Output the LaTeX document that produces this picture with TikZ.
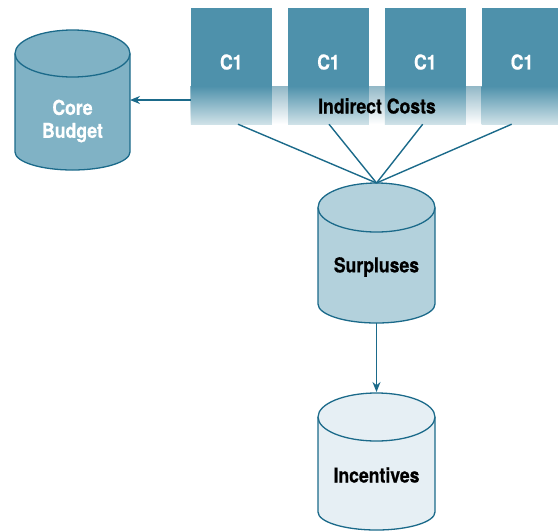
\documentclass[tikz,border=0pt]{standalone}
\usepackage{fontspec}
\setmainfont{TeX Gyre Heros}[FakeStretch=0.86, BoldFeatures={FakeBold=0.6}]
\usetikzlibrary{arrows.meta,calc}
\definecolor{boxc}{HTML}{4E91AB}
\definecolor{edgec}{HTML}{1B6A8A}
\definecolor{cbfill}{HTML}{80B2C5}
\definecolor{spfill}{HTML}{B3D1DC}
\definecolor{infill}{HTML}{E6EFF4}
\definecolor{bandtop}{HTML}{92B8C7}
\definecolor{boxlow}{HTML}{D0E2E8}
\begin{document}
\begin{tikzpicture}[x=1pt,y=-1pt,
  lbl/.style={font=\bfseries\fontsize{20.5}{23}\selectfont, align=center, inner sep=0pt},
  boxnode/.style={minimum width=80.5pt, minimum height=116pt, inner sep=0pt, draw=none},
  conn/.style={draw=edgec, line width=1.4pt},
  arr/.style={conn, -{Stealth[length=10pt,width=8pt]}},
  cylline/.style={draw=edgec, line width=1.3pt}]
\useasboundingbox (0,0) rectangle (558,531);

% band behind boxes
\shade[top color=bandtop, bottom color=white] (190,86) rectangle (558,124);

% boxes
\foreach \n/\cx in {b1/231.3, b2/328.5, b3/425.3, b4/522}{
  \node[boxnode] (\n) at (\cx,66) {};
  \fill[boxc] (\n.north west) rectangle ($(\n.east)+(0,20)$);
  \shade[top color=boxc, bottom color=boxlow] ($(\n.west)+(0,20)$) rectangle (\n.south east);
}
\foreach \n in {b1,b2,b3,b4}{
  \node[lbl, text=white] (t\n) at ($(\n.center)+(0,-4)$) {C1};
}
\node[lbl, text=black] (ind) at (377,106) {Indirect Costs};

% Core Budget cylinder
\filldraw[cylline, fill=cbfill] (15,53.5) -- (15,152) arc[start angle=180, end angle=360, x radius=57.5pt, y radius=18pt] -- (130,53.5);
\filldraw[cylline, fill=cbfill] (72.5,53.5) ellipse[x radius=57.5pt, y radius=23.5pt];
\coordinate (cbright) at (130,100);
\node[lbl, text=white] (core) at (72.5,121) {Core\\Budget};

% Surpluses cylinder
\filldraw[cylline, fill=spfill] (318,207.5) -- (318,304) arc[start angle=180, end angle=360, x radius=58.5pt, y radius=19pt] -- (435,207.5);
\filldraw[cylline, fill=spfill] (376.5,207.5) ellipse[x radius=58.5pt, y radius=24.5pt];
\coordinate (sptop) at (376.5,183);
\coordinate (spbot) at (376.5,323);
\node[lbl, text=black] (surp) at (376.5,267) {Surpluses};

% Incentives cylinder
\filldraw[cylline, fill=infill] (318,417) -- (318,512) arc[start angle=180, end angle=360, x radius=58.5pt, y radius=18pt] -- (435,417);
\filldraw[cylline, fill=infill] (376.5,417) ellipse[x radius=58.5pt, y radius=24pt];
\coordinate (intop) at (376.5,392);
\node[lbl, text=black] (inc) at (376.5,475) {Incentives};

% connectors
\draw[arr] (b1.west |- 0,100) -- (cbright);
\draw[conn] ($(b1.south)+(6.7,0)$) -- (sptop);
\draw[conn] ($(b2.south)+(0.5,0)$) -- (sptop);
\draw[conn] ($(b3.south)+(-2.6,0)$) -- (sptop);
\draw[conn] ($(b4.south)+(-10.3,0)$) -- (sptop);
\draw[arr] (spbot) -- (intop);
\end{tikzpicture}
\end{document}
